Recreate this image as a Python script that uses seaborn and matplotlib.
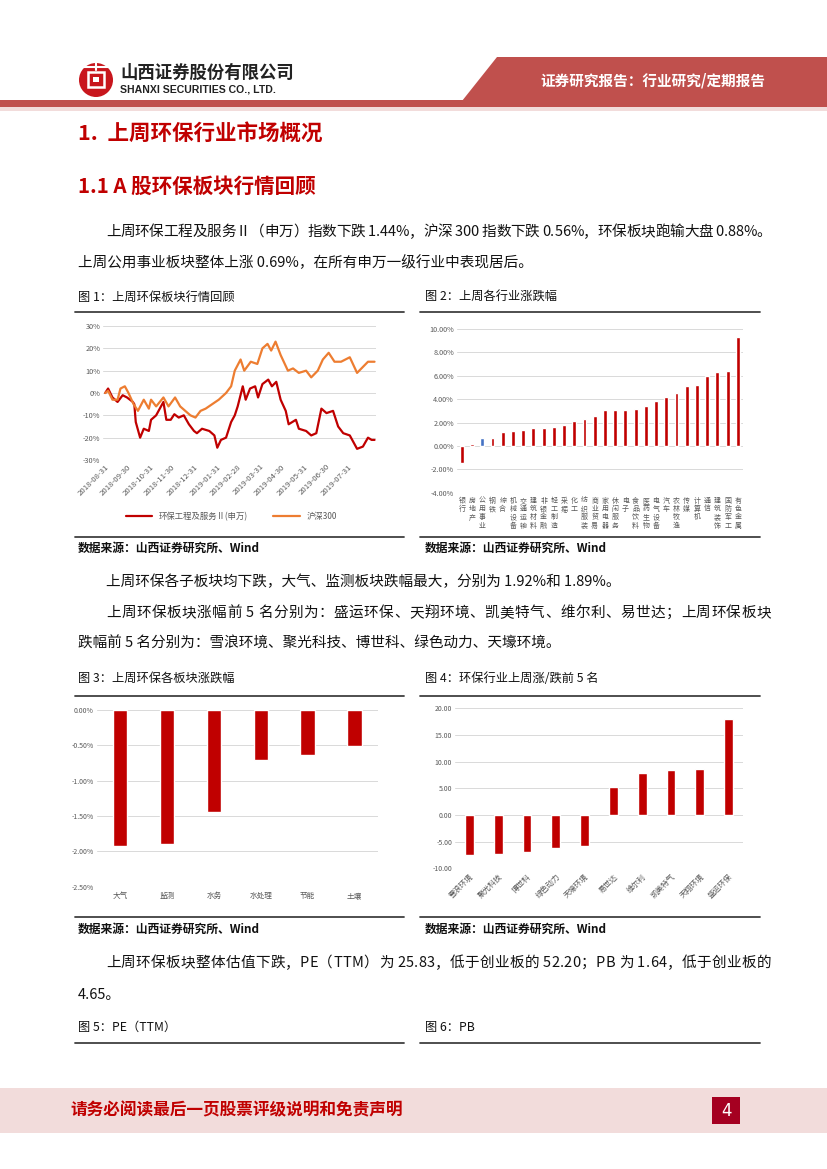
import seaborn as sns
import matplotlib.pyplot as plt
import matplotlib.patches as mpatches
import pandas as pd
import numpy as np

# chart 1: weekly-ish readings of the two index lines (%)
red_dates = ['2018-08-31', '2018-09-04', '2018-09-10', '2018-09-17', '2018-09-24', '2018-09-30',
             '2018-10-08', '2018-10-10', '2018-10-12', '2018-10-18', '2018-10-23', '2018-10-30',
             '2018-11-02', '2018-11-09', '2018-11-19', '2018-11-23', '2018-11-29', '2018-12-04',
             '2018-12-10', '2018-12-17', '2018-12-24', '2018-12-31', '2019-01-04', '2019-01-11',
             '2019-01-21', '2019-01-28', '2019-02-01', '2019-02-06', '2019-02-13', '2019-02-20',
             '2019-02-25', '2019-03-01', '2019-03-08', '2019-03-12', '2019-03-18', '2019-03-25',
             '2019-03-29', '2019-04-04', '2019-04-12', '2019-04-17', '2019-04-23', '2019-04-29',
             '2019-05-06', '2019-05-10', '2019-05-20', '2019-05-24', '2019-06-03', '2019-06-10',
             '2019-06-17', '2019-06-24', '2019-07-01', '2019-07-10', '2019-07-17', '2019-07-24',
             '2019-08-02', '2019-08-12', '2019-08-20', '2019-08-27', '2019-09-01', '2019-09-05']
red_vals = [0, 2, -2, -4, -1, -2, -4, -5, -13, -20, -16, -17, -12, -10, -4, -12, -12, -9.5, -11, -10,
            -14, -17, -18, -16, -17, -19, -24.5, -21, -20, -13, -10, -6, 3, -3, 2, 3, -2, 4, 6, 3,
            5, -3, -8, -14, -12, -16, -17, -19, -18, -7, -9, -8, -15, -18, -19, -25, -24, -20, -21, -21]

hs_dates = ['2018-08-31', '2018-09-04', '2018-09-10', '2018-09-17', '2018-09-21', '2018-09-27',
            '2018-10-02', '2018-10-09', '2018-10-15', '2018-10-23', '2018-10-30', '2018-11-02',
            '2018-11-09', '2018-11-19', '2018-11-26', '2018-12-05', '2018-12-12', '2018-12-19',
            '2018-12-26', '2019-01-02', '2019-01-09', '2019-01-16', '2019-01-25', '2019-02-03',
            '2019-02-13', '2019-02-20', '2019-02-25', '2019-03-05', '2019-03-10', '2019-03-19',
            '2019-03-28', '2019-04-04', '2019-04-11', '2019-04-16', '2019-04-22', '2019-04-29',
            '2019-05-09', '2019-05-16', '2019-05-24', '2019-06-03', '2019-06-10', '2019-06-19',
            '2019-06-26', '2019-07-04', '2019-07-12', '2019-07-21', '2019-08-02', '2019-08-12',
            '2019-08-18', '2019-08-27', '2019-09-05']
hs_vals = [0, 1, -3, -3, 2, 3, 0, -5, -8, -3, -7, -3, -6, -2, -6, -2, -6, -8, -10, -11,
           -8, -7, -5, -3, 0, 3, 10, 15, 10, 14, 13, 20, 22, 19, 23, 17, 10, 11, 9, 10,
           7, 10, 15, 18, 14, 14, 16, 9, 11, 14, 14]
month_ticks = ['2018-08-31', '2018-09-30', '2018-10-31', '2018-11-30', '2018-12-31', '2019-01-31',
               '2019-02-28', '2019-03-31', '2019-04-30', '2019-05-31', '2019-06-30', '2019-07-31']

# chart 2: industries weekly change (%)
industries = ['银行', '房地产', '公用事业', '钢铁', '综合', '机械设备', '交通运输', '建筑材料',
              '非银金融', '轻工制造', '采掘', '化工', '纺织服装', '商业贸易', '家用电器', '休闲服务',
              '电子', '食品饮料', '医药生物', '电气设备', '汽车', '农林牧渔', '传媒', '计算机',
              '通信', '建筑装饰', '国防军工', '有色金属']
ind_chg = [-1.5, 0.2, 0.69, 0.7, 1.15, 1.25, 1.35, 1.5, 1.5, 1.6, 1.8, 2.1, 2.3, 2.55,
           3.05, 3.05, 3.05, 3.15, 3.45, 3.8, 4.2, 4.5, 5.1, 5.25, 6.0, 6.3, 6.45, 9.3]

# chart 3: sub sectors (%)
subs = ['大气', '监测', '水务', '水处理', '节能', '土壤']
sub_chg = [-1.92, -1.89, -1.45, -0.71, -0.63, -0.51]

# chart 4: top / bottom 5 stocks (%)
stocks = ['雪浪环境', '聚光科技', '博世科', '绿色动力', '天壕环境',
          '易世达', '维尔利', '凯美特气', '天翔环境', '盛运环保']
stock_chg = [-7.5, -7.3, -7.0, -6.2, -5.8, 5.2, 7.9, 8.5, 8.7, 17.9]

RED = '#C00000'
ORANGE = '#ED7D31'
BLUE = '#4472C4'
GRID = '#D9D9D9'
TICK = '#595959'
BAND = '#C0504D'

sns.set_theme(style='white')
plt.rcParams['font.family'] = ['Noto Sans CJK SC', 'DejaVu Sans']
plt.rcParams['axes.unicode_minus'] = False

W, H = 827, 1169
fig = plt.figure(figsize=(W / 100, H / 100), dpi=100)
bg = fig.add_axes([0, 0, 1, 1])
bg.set_xlim(0, W)
bg.set_ylim(H, 0)
bg.axis('off')
renderer = fig.canvas.get_renderer()


def axes_px(x0, y0, x1, y1):
    return fig.add_axes([x0 / W, 1 - y1 / H, (x1 - x0) / W, (y1 - y0) / H])


def text_width(s, **kw):
    t = bg.text(0, 0, s + '|', **kw)
    w = t.get_window_extent(renderer).width
    t.remove()
    t = bg.text(0, 0, '|', **kw)
    w -= t.get_window_extent(renderer).width
    t.remove()
    return w


def justify(x0, x1, y, s, **kw):
    # spread the characters so the line fills x0..x1, like the justified report text
    natural = text_width(s, **kw)
    extra = (x1 - x0 - natural) / (len(s) - 1)
    for i, c in enumerate(s):
        if c == ' ':
            continue
        bg.text(x0 + text_width(s[:i], **kw) + i * extra, y, c, **kw)


# ---- header
bg.add_patch(mpatches.Polygon([(462, 101), (497, 57), (827, 57), (827, 101)], color=BAND, lw=0))
bg.add_patch(mpatches.Rectangle((0, 100), W, 7, color=BAND, lw=0))
bg.add_patch(mpatches.Rectangle((0, 107), W, 4, color='#F2DCDB', lw=0))
bg.text(540, 81, '证券研究报告：行业研究/定期报告', color='white', fontsize=10.5,
        fontweight='bold', va='center')
# logo
bg.add_patch(mpatches.Circle((96, 80), 17, color='#C8161D', lw=0))
bg.add_patch(mpatches.Rectangle((88, 72), 16, 15, fill=False, ec='white', lw=1.8))
bg.add_patch(mpatches.Rectangle((93, 77), 6, 5, color='white', lw=0))
bg.plot([84, 108], [67, 67], color='white', lw=1.5)
bg.plot([96, 96], [63, 70], color='white', lw=1.5)
bg.text(120, 73, '山西证券股份有限公司', fontsize=12.5, fontweight='bold', color='#222222', va='center')
bg.text(120, 89, 'SHANXI SECURITIES CO., LTD.', fontsize=7.6, fontweight='bold', color='#222222',
        va='center', family='Liberation Sans')

# ---- headings and body text
bg.text(78, 133, '1.  上周环保行业市场概况', fontsize=15.5, fontweight='bold', color=RED, va='center')
bg.text(78, 186, '1.1 A 股环保板块行情回顾', fontsize=14.8, fontweight='bold', color=RED, va='center')
body = dict(fontsize=10.5, color='#111111', va='center')
justify(106, 771, 232, '上周环保工程及服务Ⅱ（申万）指数下跌 1.44%，沪深 300 指数下跌 0.56%，环保板块跑输大盘 0.88%。', **body)
bg.text(78, 263, '上周公用事业板块整体上涨 0.69%，在所有申万一级行业中表现居后。', **body)
bg.text(106, 582, '上周环保各子板块均下跌，大气、监测板块跌幅最大，分别为 1.92%和 1.89%。', **body)
justify(106, 771, 613, '上周环保板块涨幅前 5 名分别为：盛运环保、天翔环境、凯美特气、维尔利、易世达；上周环保板块', **body)
bg.text(78, 644, '跌幅前 5 名分别为：雪浪环境、聚光科技、博世科、绿色动力、天壕环境。', **body)
justify(106, 771, 963, '上周环保板块整体估值下跌，PE（TTM）为 25.83，低于创业板的 52.20；PB 为 1.64，低于创业板的', **body)
bg.text(78, 995, '4.65。', **body)

cap = dict(fontsize=8.8, color='#111111', va='center')
src = dict(fontsize=8.5, color='#111111', va='center', fontweight='bold')
for (y, l, r) in [(297, '图 1：上周环保板块行情回顾', '图 2：上周各行业涨跌幅'),
                  (678, '图 3：上周环保各板块涨跌幅', '图 4：环保行业上周涨/跌前 5 名'),
                  (1027, '图 5：PE（TTM）', '图 6：PB')]:
    bg.text(78, y, l, **cap)
    bg.text(425, y, r, **cap)
for y in [312, 537, 696, 917, 1043]:
    bg.plot([75, 404], [y, y], color='#404040', lw=1.3)
    bg.plot([420, 760], [y, y], color='#404040', lw=1.3)
for y in [548, 929]:
    bg.text(78, y, '数据来源：山西证券研究所、Wind', **src)
    bg.text(425, y, '数据来源：山西证券研究所、Wind', **src)

# ---- footer
bg.add_patch(mpatches.Rectangle((0, 1088), W, 45, color='#F2DCDB', lw=0))
bg.text(70, 1110, '请务必阅读最后一页股票评级说明和免责声明', fontsize=12, fontweight='bold',
        color=RED, va='center')
bg.add_patch(mpatches.Rectangle((712, 1097), 28, 27, color='#A50021', lw=0))
bg.text(726, 1110.5, '4', fontsize=12, color='white', ha='center', va='center', family='DejaVu Sans')


def style_axes(ax, fs=5):
    for s in ax.spines.values():
        s.set_visible(False)
    ax.set_facecolor('none')
    ax.yaxis.grid(True, color=GRID, lw=0.7)
    ax.set_axisbelow(True)
    ax.tick_params(axis='both', length=0, labelsize=fs, labelcolor=TICK, pad=2)
    ax.set_xlabel('')
    ax.set_ylabel('')


# ---- chart 1
ax1 = axes_px(103, 326, 376, 460)
df_red = pd.DataFrame({'date': pd.to_datetime(red_dates), 'v': red_vals})
df_hs = pd.DataFrame({'date': pd.to_datetime(hs_dates), 'v': hs_vals})
sns.lineplot(data=df_red, x='date', y='v', color=RED, lw=1.6, ax=ax1, label='环保工程及服务Ⅱ(申万)')
sns.lineplot(data=df_hs, x='date', y='v', color=ORANGE, lw=1.6, ax=ax1, label='沪深300')
style_axes(ax1, 5.3)
ax1.set_ylim(-30, 30)
ax1.set_yticks(range(-30, 31, 10))
ax1.set_yticklabels([f'{v}%' for v in range(-30, 31, 10)])
ax1.set_xlim(pd.Timestamp('2018-08-28'), pd.Timestamp('2019-09-07'))
ax1.set_xticks(pd.to_datetime(month_ticks))
ax1.set_xticklabels(month_ticks, rotation=45, ha='right', rotation_mode='anchor')
ax1.tick_params(axis='x', labelsize=5.6)
ax1.legend(loc='center', bbox_to_anchor=(0.47, -0.42), ncol=2, frameon=False, fontsize=6,
           handlelength=3.2, columnspacing=3, labelcolor=TICK)

# ---- chart 2
ax2 = axes_px(456.7, 329, 743, 492.7)
stacked = ['\n'.join(n) for n in industries]
pal2 = [BLUE if n == '公用事业' else RED for n in industries]
sns.barplot(x=stacked, y=ind_chg, hue=stacked, palette=pal2, width=0.38, saturation=1,
            dodge=False, legend=False, ax=ax2)
style_axes(ax2, 5.2)
ax2.set_ylim(-4, 10)
ax2.set_yticks(range(-4, 11, 2))
ax2.set_yticklabels([f'{v:.2f}%' for v in range(-4, 11, 2)])
ax2.set_xlim(-0.5, len(industries) - 0.5)
ax2.tick_params(axis='x', labelsize=5, pad=3)
for t in ax2.get_xticklabels():
    t.set_linespacing(1.05)
    t.set_va('top')

# ---- chart 3
ax3 = axes_px(96.7, 710, 378, 886.7)
sns.barplot(x=subs, y=sub_chg, color=RED, saturation=1, width=0.31, ax=ax3)
style_axes(ax3, 5)
ax3.set_ylim(-2.5, 0)
yt3 = [0, -0.5, -1.0, -1.5, -2.0, -2.5]
ax3.set_yticks(yt3)
ax3.set_yticklabels([f'{v:.2f}%' for v in yt3])
ax3.set_xlim(-0.5, len(subs) - 0.5)
ax3.tick_params(axis='x', labelsize=5.5, pad=4)

# ---- chart 4
ax4 = axes_px(455, 708.3, 743, 868.3)
sns.barplot(x=stocks, y=stock_chg, color=RED, saturation=1, width=0.3, ax=ax4)
style_axes(ax4, 5)
ax4.set_ylim(-10, 20)
ax4.set_yticks(range(-10, 21, 5))
ax4.set_yticklabels([f'{v:.2f}' for v in range(-10, 21, 5)])
ax4.set_xlim(-0.5, len(stocks) - 0.5)
ax4.set_xticks(range(len(stocks)))
ax4.set_xticklabels(stocks, rotation=45, ha='right', rotation_mode='anchor')
ax4.tick_params(axis='x', labelsize=5.5, pad=3)

fig.savefig('out.png', dpi=100)
